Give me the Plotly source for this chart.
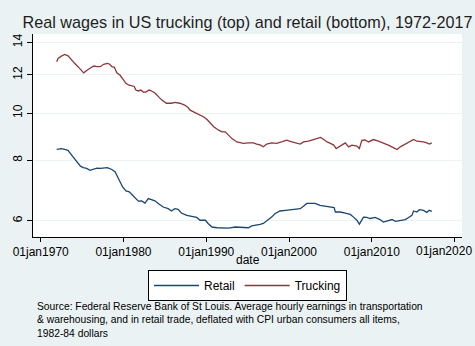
import plotly.graph_objects as go

# ---- data ----
trucking_year = [1971.93, 1972.1, 1972.5, 1972.9, 1973.3, 1973.7, 1974.1, 1974.5, 1975.0, 1975.2,
                 1975.6, 1976.0, 1976.4, 1976.8, 1977.2, 1977.6, 1978.05, 1978.3, 1978.6, 1978.9,
                 1979.2, 1979.6, 1980.0, 1980.3, 1980.6, 1981.0, 1981.3, 1981.5, 1981.8, 1982.1,
                 1982.4, 1982.7, 1983.1, 1983.4, 1983.8, 1984.2, 1984.6, 1985.2, 1985.8, 1986.2,
                 1986.8, 1987.4, 1987.8, 1988.05, 1988.45, 1988.9, 1989.3, 1989.7, 1990.1, 1990.5,
                 1990.9, 1991.5, 1991.9, 1992.3, 1992.7, 1993.1, 1993.7, 1994.1, 1994.5, 1995.1,
                 1995.7, 1996.1, 1996.5, 1996.9, 1997.3, 1997.9, 1998.5, 1999.1, 1999.7, 2000.35,
                 2000.95, 2001.35, 2001.75, 2002.35, 2002.95, 2003.4, 2003.8, 2004.2, 2004.6, 2005.0,
                 2005.4, 2005.7, 2006.2, 2006.8, 2007.2, 2007.6, 2008.2, 2008.5, 2008.8, 2009.2,
                 2009.6, 2010.2, 2010.8, 2011.4, 2012.0, 2012.6, 2013.05, 2013.45, 2013.85, 2014.25,
                 2014.65, 2015.05, 2015.45, 2015.85, 2016.25, 2016.65, 2016.95, 2017.25]
trucking_wage = [12.76, 12.97, 13.11, 13.22, 13.13, 12.93, 12.67, 12.47, 12.17, 12.11,
                 12.26, 12.37, 12.51, 12.47, 12.47, 12.61, 12.67, 12.63, 12.47, 12.43,
                 12.11, 11.97, 11.73, 11.52, 11.43, 11.38, 11.35, 11.16, 11.11, 11.16,
                 11.05, 11.05, 11.16, 11.11, 11.00, 10.83, 10.65, 10.48, 10.48, 10.52,
                 10.48, 10.39, 10.27, 10.14, 10.06, 10.01, 9.90, 9.82, 9.70, 9.52,
                 9.37, 9.22, 9.15, 9.15, 9.00, 8.86, 8.72, 8.69, 8.66, 8.68,
                 8.68, 8.63, 8.60, 8.52, 8.63, 8.68, 8.66, 8.72, 8.79, 8.72,
                 8.68, 8.63, 8.72, 8.75, 8.82, 8.86, 8.91, 8.82, 8.72, 8.66,
                 8.59, 8.45, 8.55, 8.68, 8.52, 8.59, 8.55, 8.45, 8.79, 8.80,
                 8.72, 8.82, 8.75, 8.68, 8.59, 8.49, 8.41, 8.52, 8.59, 8.66,
                 8.72, 8.82, 8.75, 8.75, 8.72, 8.68, 8.63, 8.68]

retail_year = [1971.93, 1972.5, 1972.9, 1973.3, 1973.6, 1973.9, 1974.3, 1974.5, 1974.8, 1975.15,
               1975.55, 1975.95, 1976.35, 1976.8, 1977.2, 1977.6, 1978.05, 1978.6, 1979.0, 1979.3,
               1979.6, 1979.9, 1980.3, 1980.7, 1981.1, 1981.5, 1981.8, 1982.2, 1982.6, 1983.0,
               1983.4, 1983.8, 1984.2, 1984.8, 1985.4, 1985.8, 1986.2, 1986.6, 1987.0, 1987.65,
               1988.25, 1988.85, 1989.25, 1989.9, 1990.25, 1990.7, 1991.3, 1991.9, 1992.7, 1993.5,
               1994.3, 1995.1, 1995.5, 1996.1, 1996.5, 1996.9, 1997.3, 1997.9, 1998.3, 1998.9,
               1999.6, 2000.15, 2000.75, 2001.35, 2001.75, 2002.15, 2002.75, 2003.15, 2003.75, 2004.4,
               2005.0, 2005.45, 2005.6, 2006.2, 2006.8, 2007.4, 2007.8, 2008.2, 2008.5, 2008.8,
               2009.0, 2009.4, 2009.8, 2010.4, 2011.0, 2011.4, 2012.0, 2012.45, 2012.85, 2013.45,
               2014.05, 2014.45, 2014.85, 2015.05, 2015.45, 2015.75, 2016.25, 2016.65, 2016.95, 2017.25]
retail_wage = [8.42, 8.45, 8.42, 8.38, 8.25, 8.12, 7.99, 7.87, 7.77, 7.72,
               7.69, 7.62, 7.65, 7.70, 7.69, 7.70, 7.72, 7.65, 7.56, 7.38,
               7.21, 7.04, 6.91, 6.88, 6.77, 6.66, 6.58, 6.59, 6.52, 6.66,
               6.63, 6.59, 6.51, 6.40, 6.35, 6.28, 6.35, 6.33, 6.22, 6.15,
               6.12, 6.09, 6.01, 6.01, 5.91, 5.82, 5.80, 5.80, 5.79, 5.82,
               5.82, 5.80, 5.85, 5.87, 5.89, 5.92, 5.99, 6.10, 6.20, 6.28,
               6.30, 6.32, 6.32, 6.35, 6.42, 6.51, 6.51, 6.51, 6.45, 6.42,
               6.38, 6.38, 6.25, 6.25, 6.22, 6.18, 6.10, 6.01, 5.90, 6.01,
               6.10, 6.09, 6.06, 6.09, 6.03, 5.96, 6.01, 6.03, 5.98, 6.01,
               6.03, 6.09, 6.15, 6.28, 6.25, 6.32, 6.30, 6.24, 6.30, 6.27]

x_tick_vals = [1970, 1980, 1990, 2000, 2010, 2020]
x_tick_text = ["01jan1970", "01jan1980", "01jan1990", "01jan2000", "01jan2010", "01jan2020"]
y_tick_vals = [6, 8, 10, 12, 14]
y_tick_text = ["6", "8", "10", "12", "14"]

title_text = "Real wages in US trucking (top) and retail (bottom), 1972-2017"
note_lines = [
    "Source: Federal Reserve Bank of St Louis. Average hourly earnings in transportation",
    "& warehousing, and in retail trade, deflated with CPI urban consumers all items,",
    "1982-84 dollars",
]

# ---- styling ----
FONT = "Liberation Sans, Arial, sans-serif"
BG = "#eaf2f3"
W, H = 475, 346
L, R, T, B = 33, 13, 34, 109
PW, PH = W - L - R, H - T - B


def px_y(py):
    return (H - B - py) / PH


def px_x(px):
    return (px - L) / PW


fig = go.Figure()
fig.add_trace(go.Scatter(x=retail_year, y=retail_wage, mode="lines", name="Retail",
                         line=dict(color="#1a476f", width=1.3)))
fig.add_trace(go.Scatter(x=trucking_year, y=trucking_wage, mode="lines", name="Trucking",
                         line=dict(color="#90353b", width=1.3)))

# the last tick label would run off the right edge; draw it as an annotation
# kept just inside the page edge
axis_ticktext = x_tick_text[:-1] + [""]

fig.update_layout(
    width=W, height=H,
    margin=dict(l=L, r=R, t=T, b=B),
    paper_bgcolor=BG, plot_bgcolor="white",
    font=dict(family=FONT, size=12, color="#000000"),
    title=dict(text=title_text, x=0.5, xref="paper", xanchor="center",
               y=1 - 22.5 / H, yref="container", yanchor="middle",
               font=dict(family=FONT, size=16.2, color="#1e1e1e")),
    showlegend=True,
    legend=dict(orientation="h", x=0.5, xanchor="center", y=px_y(285.5), yanchor="middle",
                bgcolor="white", bordercolor="#000000", borderwidth=1,
                font=dict(family=FONT, size=12, color="#000000"),
                itemwidth=45, traceorder="normal"),
    xaxis=dict(range=[1969.07, 2020.9], tickmode="array", tickvals=x_tick_vals,
               ticktext=axis_ticktext, ticks="outside", ticklen=4, tickcolor="#000000",
               showline=True, linecolor="#000000", linewidth=1, showgrid=False,
               zeroline=False, tickfont=dict(size=12), ticklabeloverflow="allow"),
    yaxis=dict(type="log", range=[0.7443, 1.1633], tickmode="array", tickvals=y_tick_vals,
               ticktext=y_tick_text, ticks="outside", ticklen=5, tickcolor="#000000",
               showline=True, linecolor="#000000", linewidth=1, showgrid=True,
               gridcolor=BG, gridwidth=1, zeroline=False, tickangle=-90,
               tickfont=dict(size=12)),
)

fig.add_annotation(text=x_tick_text[-1], x=px_x(474), y=px_y(250.5), xref="paper", yref="paper",
                   xanchor="right", yanchor="middle", showarrow=False,
                   font=dict(family=FONT, size=12, color="#000000"))

fig.add_annotation(text="date", x=0.5, y=px_y(260), xref="paper", yref="paper",
                   xanchor="center", yanchor="middle", showarrow=False,
                   font=dict(family=FONT, size=12, color="#000000"))

fig.add_annotation(text="<br>".join(note_lines), x=px_x(34.7), y=px_y(299), xref="paper",
                   yref="paper", xanchor="left", yanchor="top", align="left", showarrow=False,
                   font=dict(family=FONT, size=10.3, color="#000000"))

fig.write_html("out.html")
